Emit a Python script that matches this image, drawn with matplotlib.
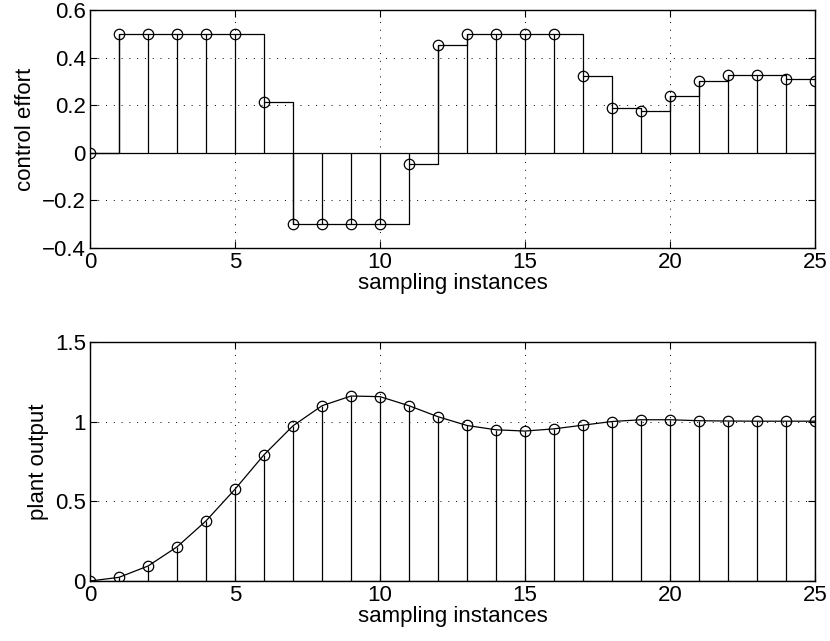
import numpy as np
import matplotlib
matplotlib.use('Agg')
import matplotlib.pyplot as plt

plt.rcParams['font.family'] = ['Liberation Sans', 'DejaVu Sans']
plt.rcParams['font.size'] = 16

# sampling instances
k = np.arange(0, 26)

# control effort u(k)
u = [0.0, 0.5, 0.5, 0.5, 0.5, 0.5, 0.215, -0.3, -0.3, -0.3, -0.3, -0.046,
     0.455, 0.5, 0.5, 0.5, 0.5, 0.322, 0.187, 0.176, 0.237, 0.30, 0.326,
     0.326, 0.312, 0.302]

# plant output y(k)
y = [0.0, 0.023, 0.094, 0.214, 0.377, 0.576, 0.792, 0.974, 1.100, 1.161,
     1.157, 1.100, 1.031, 0.976, 0.949, 0.941, 0.955, 0.978, 1.001, 1.012,
     1.012, 1.006, 1.004, 1.003, 1.003, 1.003]

fig = plt.figure(figsize=(8.3, 6.41), dpi=100)
W, H = 830, 641
ax1 = fig.add_axes([90 / W, 1 - 248 / H, 725 / W, 238 / H])
ax2 = fig.add_axes([90 / W, 1 - 581 / H, 725 / W, 239 / H])


def stem_plot(ax, x, v):
    ax.axhline(0, color='black', lw=0.9, zorder=2)
    ax.vlines(x, 0, v, color='black', lw=0.9, zorder=2)
    ax.plot(x, v, 'o', mfc='none', mec='black', ms=7.5, mew=0.9, zorder=3)


def style(ax, ylim, yticks):
    ax.set_xlim(0, 25)
    ax.set_ylim(*ylim)
    ax.set_xticks([0, 5, 10, 15, 20, 25])
    ax.set_yticks(yticks)
    ax.tick_params(direction='in', top=True, right=True, length=5, width=0.8, pad=3)
    ax.grid(True, linestyle=(0, (1, 7)), color='black', lw=0.7)
    for s in ax.spines.values():
        s.set_linewidth(1.0)
    ax.set_xlabel('sampling instances', labelpad=0)


# upper: control effort as stairs + stems
stem_plot(ax1, k, u)
ax1.plot(k, u, drawstyle='steps-post', color='black', lw=0.9, zorder=2)
style(ax1, (-0.4, 0.6), [-0.4, -0.2, 0, 0.2, 0.4, 0.6])
ax1.set_yticklabels(['\u22120.4', '\u22120.2', '0', '0.2', '0.4', '0.6'])
ax1.set_ylabel('control effort', labelpad=4)

# lower: plant output
stem_plot(ax2, k, y)
ax2.plot(k, y, color='black', lw=0.9, zorder=2)
style(ax2, (0, 1.5), [0, 0.5, 1, 1.5])
ax2.set_yticklabels(['0', '0.5', '1', '1.5'])
ax2.set_ylabel('plant output', labelpad=4)

fig.savefig('out.png', dpi=100)
